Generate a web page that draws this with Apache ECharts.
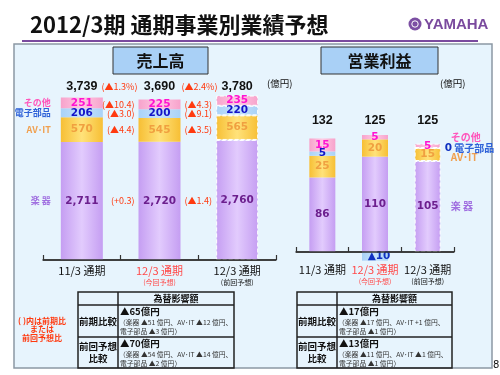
<!DOCTYPE html>
<html>
<head>
<meta charset="utf-8">
<script src="https://cdn.jsdelivr.net/npm/echarts@6/dist/echarts.min.js"></script>
<style>html,body{margin:0;padding:0;background:#fff}#container{width:500px;height:375px}</style>
</head>
<body>
<div id="container"></div>
<script>
var dom = document.getElementById('container');
var myChart = echarts.init(dom, null, { renderer: 'canvas' });

// categories
var cats = ['11/3 通期', '12/3 通期', '12/3 通期'];
var catNotes = ['', '(今回予想)', '(前回予想)'];
var segNames = ['楽 器', 'AV･IT', '電子部品', 'その他'];

// 売上高 (億円)
var salesInst = [2711, 2720, 2760];
var salesAV = [570, 545, 565];
var salesElec = [206, 200, 220];
var salesOther = [251, 225, 235];
var salesTotal = [3739, 3690, 3780];
// 12/3 今回予想 vs 前期 / vs 前回予想 (%), per segment: 楽器, AV･IT, 電子部品, その他
var salesChgPrev = ['+0.3', '▲4.4', '▲3.0', '▲10.4'];
var salesChgPlan = ['▲1.4', '▲3.5', '▲9.1', '▲4.3'];
var salesTotChgPrev = '▲1.3%';
var salesTotChgPlan = '▲2.4%';

// 営業利益 (億円)
var profitInst = [86, 110, 105];
var profitAV = [25, 20, 15];
var profitElec = [5, -10, 0];
var profitOther = [15, 5, 5];
var profitTotal = [132, 125, 125];

// 為替影響額
var fxHeader = '為替影響額';
var fxRowNames = ['前期比較', '前回予想\n比較'];
var fxSales = [
    ['▲65億円', '（楽器 ▲51 億円、AV･IT ▲12 億円、', '電子部品 ▲3 億円）'],
    ['▲70億円', '（楽器 ▲54 億円、AV･IT ▲14 億円、', '電子部品 ▲2 億円）']
];
var fxProfit = [
    ['▲17億円', '（楽器 ▲17 億円、AV･IT +1 億円、', '電子部品 ▲1 億円）'],
    ['▲13億円', '（楽器 ▲11 億円、AV･IT ▲1 億円、', '電子部品 ▲1 億円）']
];

var JP = '"Noto Sans CJK JP", sans-serif';
var NUM = '"DejaVu Sans", sans-serif';

function grad(edge, mid) {
    return new echarts.graphic.LinearGradient(0, 0, 1, 0, [
        { offset: 0, color: edge }, { offset: 0.5, color: mid }, { offset: 1, color: edge }
    ]);
}
var segFill = [
    grad('#c59ef2', '#e2cbfd'),
    grad('#f7bf35', '#ffe27a'),
    grad('#a9d2f7', '#c6e2fb'),
    grad('#f7a2cb', '#ffcbe4')
];
var valColor = ['#6c1f8e', '#f0a040', '#1414c8', '#ff14d2'];
var nameColor = ['#a070e0', '#f0a050', '#2f62d8', '#ff55bb'];
var dashed = { borderColor: '#ffffff', borderWidth: 1, borderType: 'dashed' };

// baseline of each chart
var baseLine = {
    silent: true, symbol: 'none', label: { show: false },
    lineStyle: { color: '#333', width: 1.5, type: 'solid' },
    emphasis: { disabled: true },
    data: [{ yAxis: 0 }]
};

function comma(v) { return v.toLocaleString('en-US'); }

var series = [];
var invisible = { color: 'transparent' };

// 売上高
[salesInst, salesAV, salesElec, salesOther].forEach(function (vals, s) {
    series.push({
        type: 'bar', name: segNames[s], stack: 'L', xAxisIndex: 0, yAxisIndex: 0,
        barWidth: 42, barGap: '-100%', itemStyle: { color: segFill[s] },
        label: {
            show: true, position: 'inside', color: valColor[s], fontWeight: 'bold',
            fontSize: 10.5, fontFamily: NUM,
            formatter: function (p) { return comma(p.value); }
        },
        markLine: s === 0 ? baseLine : undefined,
        data: vals.map(function (v, i) { return i === 2 ? { value: v, itemStyle: dashed } : v; })
    });
    // segment names left of 11/3, change vs 前期 left of 12/3 今回予想
    series.push({
        type: 'bar', stack: 'LA', xAxisIndex: 0, yAxisIndex: 0, barWidth: 42, barGap: '-100%',
        itemStyle: invisible, silent: true,
        data: [
            { value: vals[0], label: { show: true, position: 'left', distance: 10, formatter: segNames[s],
                color: nameColor[s], fontSize: 9, fontWeight: 'bold', fontFamily: JP } },
            { value: vals[1], label: { show: true, position: 'left', distance: 4, formatter: '(' + salesChgPrev[s] + ')',
                color: '#ff3a10', fontSize: 9, fontFamily: JP } },
            '-'
        ]
    });
    // change vs 前回予想 right of 12/3 今回予想
    series.push({
        type: 'bar', stack: 'LB', xAxisIndex: 0, yAxisIndex: 0, barWidth: 42, barGap: '-100%',
        itemStyle: invisible, silent: true,
        data: ['-',
            { value: vals[1], label: { show: true, position: 'right', distance: 4, formatter: '(' + salesChgPlan[s] + ')',
                color: '#ff3a10', fontSize: 9, fontFamily: JP } },
            '-']
    });
});

// 営業利益
var sideOffset = [[0, 0], [0, 3], [0, 0], [0, -9]];
[profitInst, profitAV, profitElec, profitOther].forEach(function (vals, s) {
    series.push({
        type: 'bar', name: segNames[s], stack: 'R', xAxisIndex: 1, yAxisIndex: 1,
        barWidth: 26, barGap: '-100%', clip: false, itemStyle: { color: segFill[s] },
        label: {
            show: true, position: 'inside', color: valColor[s], fontWeight: 'bold',
            fontSize: 10.5, fontFamily: NUM,
            formatter: function (p) { return p.value < 0 ? '▲' + (-p.value) : p.value; }
        },
        markLine: s === 0 ? baseLine : undefined,
        data: vals.map(function (v, i) {
            var item = { value: v };
            if (i === 2) item.itemStyle = dashed;
            if (v === 0) item.label = { show: false };
            if (v < 0) item.label = { offset: [4, 0], color: '#1030c0' };
            return item;
        })
    });
    var isZero = vals[2] === 0;
    series.push({
        type: 'bar', stack: 'RA', xAxisIndex: 1, yAxisIndex: 1, barWidth: 26, barGap: '-100%',
        itemStyle: invisible, silent: true,
        data: ['-', '-', {
            value: vals[2], label: {
                show: true, position: 'right', distance: isZero ? 4 : 10, offset: sideOffset[s],
                formatter: isZero ? '{n|0} ' + segNames[s] : segNames[s],
                color: nameColor[s], fontSize: 10, fontWeight: 'bold', fontFamily: JP,
                rich: { n: { color: '#1030c0', fontWeight: 'bold', fontSize: 10.5, fontFamily: NUM } }
            }
        }]
    });
});

function bottomLabel(v, i) {
    if (i === 0) return '{k|' + v + '}';
    if (i === 1) return '{r|' + v + '}\n{rs|' + catNotes[i] + '}';
    return '{k|' + v + '}\n{ks|' + catNotes[i] + '}';
}
var bottomRich = {
    k: { color: '#111', fontSize: 11, fontFamily: JP, lineHeight: 12 },
    r: { color: '#ff4a4a', fontSize: 11, fontFamily: JP, lineHeight: 12 },
    ks: { color: '#111', fontSize: 7, fontFamily: JP, lineHeight: 11 },
    rs: { color: '#ff4a4a', fontSize: 7, fontFamily: JP, lineHeight: 11 }
};
var axisLine = { show: true, onZero: false, lineStyle: { color: '#333', width: 1.5 } };
var axisTick = { show: true, inside: true, length: 5, lineStyle: { color: '#333', width: 1.2 } };

function table(x0, x1, x2, rows) {
    var y0 = 292, y1 = 305, y2 = 337, y3 = 368;
    var els = [
        { type: 'rect', shape: { x: x0, y: y0, width: x2 - x0, height: y3 - y0 }, style: { fill: 'transparent', stroke: '#222', lineWidth: 1.5 } },
        { type: 'line', shape: { x1: x0, y1: y1, x2: x2, y2: y1 }, style: { stroke: '#222', lineWidth: 1.5 } },
        { type: 'line', shape: { x1: x0, y1: y2, x2: x2, y2: y2 }, style: { stroke: '#222', lineWidth: 1.5 } },
        { type: 'line', shape: { x1: x1, y1: y0, x2: x1, y2: y3 }, style: { stroke: '#222', lineWidth: 1.5 } },
        { type: 'text', style: { x: (x1 + x2) / 2, y: (y0 + y1) / 2 + 0.5, text: fxHeader, align: 'center', verticalAlign: 'middle',
            fill: '#111', font: 'bold 9px ' + JP } }
    ];
    [y1, y2].forEach(function (top, r) {
        var bot = r === 0 ? y2 : y3;
        els.push({ type: 'text', style: { x: (x0 + x1) / 2, y: (top + bot) / 2, text: fxRowNames[r], align: 'center', verticalAlign: 'middle',
            fill: '#111', font: 'bold 9.5px ' + JP, lineHeight: 12 } });
        els.push({ type: 'text', style: { x: x1 + 2, y: top + 6, text: rows[r][0], verticalAlign: 'middle',
            fill: '#111', font: 'bold 9.5px ' + JP } });
        els.push({ type: 'text', style: { x: x1 + 1, y: top + 17, text: rows[r][1], verticalAlign: 'middle',
            fill: '#333', font: '6.8px ' + JP } });
        els.push({ type: 'text', style: { x: x1 + 2, y: top + 26, text: rows[r][2], verticalAlign: 'middle',
            fill: '#333', font: '6.8px ' + JP } });
    });
    return els;
}

var graphics = [
    { type: 'text', style: { x: 30, y: 25, text: '2012/3期 通期事業別業績予想', verticalAlign: 'middle', fill: '#111', font: 'bold 22px ' + JP } },
    { type: 'line', shape: { x1: 22, y1: 41, x2: 478, y2: 41 }, style: { stroke: '#7a4a9e', lineWidth: 2 } },
    { type: 'circle', shape: { cx: 415, cy: 24, r: 6.5 }, style: { fill: '#7c4fa3' } },
    { type: 'circle', shape: { cx: 415, cy: 24, r: 3.2 }, style: { fill: 'none', stroke: '#fff', lineWidth: 1 } },
    { type: 'text', style: { x: 424, y: 24.5, text: 'YAMAHA', verticalAlign: 'middle', fill: '#7a4a9e', font: 'bold 15px "Liberation Sans Narrow", "Liberation Sans", sans-serif' } },
    { type: 'rect', shape: { x: 113, y: 47, width: 95, height: 27 }, style: { fill: '#a9d0f6', stroke: '#333', lineWidth: 1 } },
    { type: 'text', style: { x: 160.5, y: 61, text: '売上高', align: 'center', verticalAlign: 'middle', fill: '#111', font: 'bold 16px ' + JP } },
    { type: 'rect', shape: { x: 321, y: 47, width: 117, height: 27 }, style: { fill: '#a9d0f6', stroke: '#333', lineWidth: 1 } },
    { type: 'text', style: { x: 379.5, y: 61, text: '営業利益', align: 'center', verticalAlign: 'middle', fill: '#111', font: 'bold 16px ' + JP } },
    { type: 'text', style: { x: 267, y: 83, text: '(億円)', verticalAlign: 'middle', fill: '#111', font: '9.5px ' + JP } },
    { type: 'text', style: { x: 440, y: 83, text: '(億円)', verticalAlign: 'middle', fill: '#111', font: '9.5px ' + JP } },
    { type: 'text', style: { x: 42, y: 329, text: '( )内は前期比\nまたは\n前回予想比', align: 'center', verticalAlign: 'middle',
        fill: '#ff3a10', font: 'bold 8px ' + JP, lineHeight: 8.5 } },
    { type: 'text', style: { x: 493, y: 365, text: '8', verticalAlign: 'middle', fill: '#111', font: '10px ' + NUM } }
].concat(table(78, 118, 234, fxSales)).concat(table(297, 337, 452, fxProfit));

var option = {
    animation: false,
    textStyle: { fontFamily: JP },
    grid: [
        { left: 43, right: 224, top: 86, bottom: 115 },
        { left: 296, right: 46, top: 122, bottom: 123 },
        // light-blue panel behind both charts
        { left: 14, top: 44, width: 478, height: 324, show: true, z: -1,
            backgroundColor: '#e7f4fd', borderColor: '#8c98a4', borderWidth: 1.5 }
    ],
    xAxis: [
        { type: 'category', gridIndex: 0, position: 'bottom', data: cats, axisLine: axisLine, axisTick: axisTick,
            axisLabel: { interval: 0, margin: 5, formatter: bottomLabel, rich: bottomRich } },
        { type: 'category', gridIndex: 1, position: 'bottom', data: cats, axisLine: axisLine, axisTick: axisTick,
            axisLabel: { interval: 0, margin: 12, formatter: bottomLabel, rich: bottomRich } },
        { type: 'category', gridIndex: 0, position: 'top', data: salesTotal.map(comma),
            axisLine: { show: false, onZero: false }, axisTick: { show: false },
            axisLabel: {
                interval: 0, margin: -7,
                formatter: function (v, i) {
                    if (i === 1) return '{p|(' + salesTotChgPrev + ')}{t|' + v + '}{p|(' + salesTotChgPlan + ')}';
                    return '{t|' + v + '}';
                },
                rich: {
                    t: { width: 44, align: 'center', color: '#111', fontWeight: 'bold', fontSize: 12.5, fontFamily: '"Liberation Sans", sans-serif' },
                    p: { width: 36, align: 'center', color: '#ff3a10', fontSize: 9, fontFamily: JP }
                }
            } },
        { type: 'category', gridIndex: 1, position: 'top', data: profitTotal,
            axisLine: { show: false, onZero: false }, axisTick: { show: false },
            axisLabel: { interval: 0, margin: -5, color: '#111', fontWeight: 'bold', fontSize: 12.5, fontFamily: '"Liberation Sans", sans-serif' } },
        { type: 'category', gridIndex: 2, show: false, data: [] }
    ],
    yAxis: [
        { type: 'value', gridIndex: 0, min: 0, max: 4000, show: false },
        { type: 'value', gridIndex: 1, min: 0, max: 150, show: false },
        { type: 'value', gridIndex: 2, show: false }
    ],
    graphic: graphics,
    series: series
};

myChart.setOption(option);
window.addEventListener('resize', myChart.resize);
</script>
</body>
</html>
